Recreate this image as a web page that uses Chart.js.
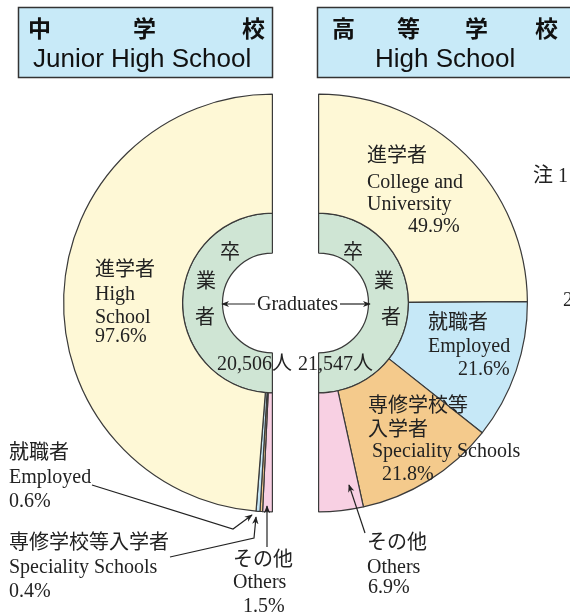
<!DOCTYPE html>
<html>
<head>
<meta charset="utf-8">
<script src="https://cdn.jsdelivr.net/npm/chart.js@4.4.1/dist/chart.umd.min.js"></script>
<style>
    body {
        margin: 0;
        width: 570px;
        height: 616px;
        position: relative;
        overflow: hidden;
        background: #fff;
    }
    canvas {
        position: absolute;
    }
    #overlay {
        position: absolute;
        left: 0;
        top: 0;
    }
    .lbl {
        font-family: "Liberation Serif", "Noto Sans CJK JP", serif;
        font-size: 20px;
        fill: #222;
    }
    .ttl {
        font-family: "Liberation Sans", "Noto Sans CJK JP", sans-serif;
        font-size: 26px;
        fill: #111;
    }
    .ttlj {
        font-family: "Noto Sans CJK JP", sans-serif;
        font-size: 23px;
        font-weight: bold;
        fill: #111;
    }
</style>
</head>
<body>
<canvas id="junior" width="216" height="426" style="left:60px;top:90px"></canvas>
<canvas id="high" width="216" height="426" style="left:315px;top:90px"></canvas>
<svg id="overlay" width="570" height="616" xmlns="http://www.w3.org/2000/svg"></svg>
<script>
// 卒業者の進路 (中学校 / 高等学校)
const categories = ["進学者", "就職者", "専修学校等入学者", "その他"];
const juniorValues = [97.6, 0.6, 0.4, 1.5];
const highValues = [49.9, 21.6, 21.8, 6.9];
const graduates = [20506, 21547];

const sliceColors = ["#fef8d6", "#c6e8f7", "#f4ca8c", "#f8d0e3"];
const ringColor = "#cfe5d4";
const edgeColor = "#3a3a3a";

function renderHalf(canvas, values, colors, rotation, total) {
    const chartData = {
        labels: categories,
        datasets: [
            {
                data: values,
                backgroundColor: colors,
                borderColor: edgeColor,
                borderWidth: 1.2,
                hoverBorderWidth: 1.2,
                weight: 119,
            },
            {
                data: [total],
                backgroundColor: ringColor,
                borderColor: edgeColor,
                borderWidth: 1.2,
                hoverBorderWidth: 1.2,
                weight: 40,
            },
        ],
    };

    new Chart(canvas, {
        type: "doughnut",
        data: chartData,
        options: {
            responsive: false,
            animation: false,
            events: [],
            rotation: rotation,
            circumference: 180,
            cutout: "23.9%",
            layout: { padding: 3 },
            plugins: {
                legend: { display: false },
                tooltip: { enabled: false },
            },
        },
    });
}

// left half runs clockwise from the bottom, so the order is reversed
renderHalf(
    document.getElementById("junior"),
    juniorValues.slice().reverse(),
    sliceColors.slice().reverse(),
    180,
    graduates[0]
);
renderHalf(document.getElementById("high"), highValues, sliceColors, 0, graduates[1]);

// texts and leader lines
const svg = document.getElementById("overlay");
const NS = "http://www.w3.org/2000/svg";

function el(name, attrs, text) {
    const node = document.createElementNS(NS, name);
    for (const k in attrs) node.setAttribute(k, attrs[k]);
    if (text !== undefined) node.textContent = text;
    svg.appendChild(node);
    return node;
}

function text(str, x, y, cls) {
    return el("text", { x: x, y: y, class: cls || "lbl" }, str);
}

function pct(v) {
    return v.toFixed(1) + "%";
}

function fmt(n) {
    return n.toLocaleString("en-US") + "人";
}

const defs = el("defs", {});
const marker = document.createElementNS(NS, "marker");
marker.setAttribute("id", "ah");
marker.setAttribute("viewBox", "0 0 10 10");
marker.setAttribute("refX", "9");
marker.setAttribute("refY", "5");
marker.setAttribute("markerWidth", "8");
marker.setAttribute("markerHeight", "8");
marker.setAttribute("markerUnits", "userSpaceOnUse");
marker.setAttribute("orient", "auto");
const mp = document.createElementNS(NS, "path");
mp.setAttribute("d", "M0,1 L10,5 L0,9 L3,5 Z");
mp.setAttribute("fill", "#222");
marker.appendChild(mp);
defs.appendChild(marker);

function arrow(points) {
    el("polyline", {
        points: points.map((p) => p.join(",")).join(" "),
        fill: "none",
        stroke: "#222",
        "stroke-width": 1.2,
        "marker-end": "url(#ah)",
    });
}

// title boxes
el("rect", { x: 18.5, y: 7.5, width: 254, height: 70, fill: "#c8eaf8", stroke: "#333", "stroke-width": 1.5 });
el("rect", { x: 317.5, y: 7.5, width: 270, height: 70, fill: "#c8eaf8", stroke: "#333", "stroke-width": 1.5 });
text("中", 28, 37, "ttlj");
text("学", 133, 37, "ttlj");
text("校", 242, 37, "ttlj");
text("Junior High School", 33, 67, "ttl");
text("高", 332, 37, "ttlj");
text("等", 397, 37, "ttlj");
text("学", 465, 37, "ttlj");
text("校", 535, 37, "ttlj");
text("High School", 375, 67, "ttl");

// 中学校 labels
text(categories[0], 95, 276);
text("High", 95, 300);
text("School", 95, 323);
text(pct(juniorValues[0]), 95, 342);

text(categories[1], 9, 459);
text("Employed", 9, 483);
text(pct(juniorValues[1]), 9, 507);
arrow([[92, 485], [233, 529], [252, 515]]);

text(categories[2], 9, 549);
text("Speciality Schools", 9, 573);
text(pct(juniorValues[2]), 9, 597);
arrow([[170, 557], [254, 538], [256, 517]]);

text(categories[3], 233, 566);
text("Others", 233, 588);
text(pct(juniorValues[3]), 243, 612);
arrow([[267, 547], [267, 506]]);

// 高等学校 labels
text(categories[0], 367, 162);
text("College and", 367, 188);
text("University", 367, 210);
text(pct(highValues[0]), 408, 232);

text(categories[1], 428, 329);
text("Employed", 428, 352);
text(pct(highValues[1]), 458, 375);

text("専修学校等", 368, 412);
text("入学者", 368, 436);
text("Speciality Schools", 372, 457);
text(pct(highValues[2]), 382, 480);

text(categories[3], 367, 549);
text("Others", 367, 573);
text(pct(highValues[3]), 368, 593);
arrow([[365, 533], [349, 485]]);

// centre ring
text("卒", 220, 259);
text("業", 196, 288);
text("者", 195, 324);
text("卒", 343, 259);
text("業", 374, 288);
text("者", 381, 324);
text("Graduates", 257, 310);
arrow([[255, 304], [222, 304]]);
arrow([[340, 304], [370, 304]]);
text(fmt(graduates[0]), 217, 370);
text(fmt(graduates[1]), 298, 370);

// notes cut at the right edge
text("注 1", 533, 182);
text("2", 563, 306);
</script>
</body>
</html>
